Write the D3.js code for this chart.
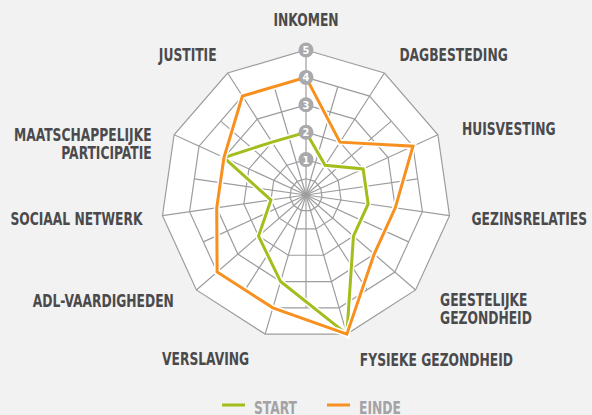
<!DOCTYPE html>
<html>
<head>
<meta charset="utf-8">
<script src="https://cdn.jsdelivr.net/npm/d3@7"></script>
<style>
  html, body { margin: 0; padding: 0; background: #f2f2f2; }
  svg { display: block; }
</style>
</head>
<body>
<div id="chart"></div>
<script>
// Chart data
const axes = ["INKOMEN", "DAGBESTEDING", "HUISVESTING", "GEZINSRELATIES",
  "GEESTELIJKE\nGEZONDHEID", "FYSIEKE GEZONDHEID", "VERSLAVING", "ADL-VAARDIGHEDEN",
  "SOCIAAL NETWERK", "MAATSCHAPPELIJKE\nPARTICIPATIE", "JUSTITIE"];
const startValues = [2, 1, 2, 2, 2, 5, 3, 2, 1, 3, 2];
const eindeValues = [4, 2, 4, 3, 3, 5, 4, 4, 3, 3, 4];
const levels = [1, 2, 3, 4, 5];
const seriesNames = ["START", "EINDE"];

// Layout
const width = 592, height = 415;
const cx = 306, cy = 195;
const green = "#a3bd1c", orange = "#f7901e";
const labelFont = "'DejaVu Sans Condensed', 'Liberation Sans Narrow', sans-serif";
const squeeze = 0.76;

// label offsets from each outer vertex: [dx, dy, anchor]
const labelOffsets = [
  [0, -24, "middle"], [15, -12, "start"], [24, 0, "start"], [22, 9.5, "start"],
  [24.5, 16, "start"], [13, 32, "start"], [-16, 31, "end"], [-22.5, 16.7, "end"],
  [-20, 9.5, "end"], [-22.5, 6, "end"], [-11, -12, "end"]
];

const svg = d3.select("#chart").append("svg")
  .attr("width", width)
  .attr("height", height);

const r = d3.scaleLinear().domain([0, 5]).range([8, 145]);
const angle = d3.scaleLinear().domain([0, axes.length]).range([0, 2 * Math.PI]);

const pt = (i, v) => [cx + r(v) * Math.sin(angle(i)), cy - r(v) * Math.cos(angle(i))];

const g = svg.append("g");
const gridColor = "#9d9d9f";

// outer white web
const ring = v => d3.range(axes.length).map(i => pt(i, v));
g.append("path")
  .attr("d", d3.line().curve(d3.curveLinearClosed)(ring(5)))
  .attr("fill", "#fff");

// spokes: one per axis plus one between each pair
d3.range(axes.length * 2).forEach(k => {
  const a = angle(k / 2);
  const len = k % 2 === 0 ? r(5) : r(4) * Math.cos(Math.PI / axes.length);
  g.append("line")
    .attr("x1", cx).attr("y1", cy)
    .attr("x2", cx + len * Math.sin(a))
    .attr("y2", cy - len * Math.cos(a))
    .attr("stroke", gridColor)
    .attr("stroke-width", 1.2);
});

// rings
[0.3].concat(levels).forEach(v => {
  g.append("path")
    .attr("d", d3.line().curve(d3.curveLinearClosed)(ring(v)))
    .attr("fill", "none")
    .attr("stroke", gridColor)
    .attr("stroke-width", 1.2);
});

// series lines
const line = d3.line().curve(d3.curveLinearClosed);
[[startValues, green], [eindeValues, orange]].forEach(([vals, col]) => {
  const pts = vals.map((v, i) => pt(i, v));
  g.append("path")
    .attr("d", line(pts))
    .attr("fill", "none")
    .attr("stroke", "#fff")
    .attr("stroke-width", 6)
    .attr("stroke-linejoin", "miter");
  g.append("path")
    .attr("d", line(pts))
    .attr("fill", "none")
    .attr("stroke", col)
    .attr("stroke-width", 3)
    .attr("stroke-linejoin", "miter");
});

// level markers on the top axis, above the lines
const marker = g.append("g").selectAll("g")
  .data(levels)
  .enter().append("g")
  .attr("transform", d => `translate(${pt(0, d)[0]},${pt(0, d)[1]})`);
marker.append("circle")
  .attr("r", 7.5)
  .attr("fill", "#a7a9ac");
marker.append("text")
  .attr("text-anchor", "middle")
  .attr("dy", "0.36em")
  .attr("fill", "#fff")
  .style("font", `bold 11px ${labelFont}`)
  .text(d => d);

// axis labels
axes.forEach((name, i) => {
  const [vx, vy] = pt(i, 5);
  const [dx, dy, anchor] = labelOffsets[i];
  const t = svg.append("text")
    .attr("transform", `translate(${vx + dx},${vy + dy}) scale(${squeeze},1)`)
    .attr("text-anchor", anchor)
    .attr("fill", "#4a4a4c")
    .style("font", `bold 18px ${labelFont}`);
  name.split("\n").forEach((part, j) => {
    t.append("tspan").attr("x", 0).attr("dy", j ? 18.5 : 0).text(part);
  });
});

// legend
const legend = svg.append("g").selectAll("g")
  .data(seriesNames)
  .enter().append("g")
  .attr("transform", (d, i) => `translate(${222 + i * 105},405)`);
legend.append("line")
  .attr("x1", 0).attr("x2", 23)
  .attr("stroke", (d, i) => i ? orange : green)
  .attr("stroke-width", 3);
legend.append("text")
  .attr("transform", `translate(32,8.5) scale(${squeeze},1)`)
  .attr("fill", "#a3a3a5")
  .style("font", `bold 18px ${labelFont}`)
  .text(d => d);
</script>
</body>
</html>
